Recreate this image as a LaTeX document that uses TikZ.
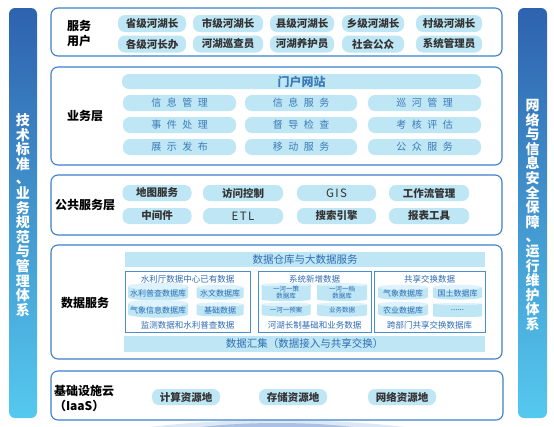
\documentclass[tikz,border=0pt]{standalone}
\usepackage{fontspec}
\setmainfont{Noto Sans CJK SC}
\newfontfamily\widefont[LetterSpace=55]{Noto Sans CJK SC}
\newfontfamily\latinfont[LetterSpace=12]{Noto Sans CJK SC}
\usetikzlibrary{shapes.geometric}

\definecolor{boxline}{HTML}{3C80CB}
\definecolor{bartop}{HTML}{2E62AE}
\definecolor{barmid}{HTML}{3F95D6}
\definecolor{barbot}{HTML}{55C9EF}
\definecolor{pillfill}{HTML}{BEE6F4}
\definecolor{pilltop}{HTML}{DDF2FA}
\definecolor{pilltext}{HTML}{333333}
\definecolor{steeltext}{HTML}{3C7AB8}
\definecolor{datatext}{HTML}{2F6CB3}
\definecolor{subline}{HTML}{4A8ED2}
\definecolor{glowlight}{HTML}{DDE8F5}
\definecolor{glowdark}{HTML}{A9C1E2}

\begin{document}
\begin{tikzpicture}[x=1pt, y=-1pt,
    layer/.style={draw=boxline, line width=1.1pt, rounded corners=7pt},
    sidebar/.style={rounded corners=6pt, top color=bartop, middle color=barmid, bottom color=barbot},
    sidetext/.style={text=white, align=center, font=\fontsize{14}{14.6}\selectfont\bfseries},
    layerlabel/.style={align=left, text=black, font=\fontsize{12}{15}\selectfont\bfseries},
    pill/.style={fill=pillfill, rounded corners=7pt, inner sep=0pt, minimum height=17pt, text=pilltext, font=\fontsize{10.5}{12}\selectfont\bfseries},
    bizpill/.style={pill, minimum height=16pt, text=steeltext, font=\widefont\fontsize{10}{12}\selectfont},
    databar/.style={fill=pillfill, inner sep=0pt, minimum height=15pt, text=datatext, font=\fontsize{10.5}{12}\selectfont},
    subbox/.style={draw=subline, line width=0.8pt},
    subtitle/.style={text=datatext, font=\fontsize{8.5}{10}\selectfont},
    dbcyl/.style={shape=cylinder, shape border rotate=90, aspect=0.12, cylinder uses custom fill, cylinder body fill=pillfill, cylinder end fill=pilltop, inner sep=0pt, align=center, text=datatext, font=\fontsize{8}{8}\selectfont}
    ]

    \useasboundingbox (0,0) rectangle (554,426);
    \fill[white] (0,0) rectangle (554,426);

    % glow under the stack
    \begin{scope}
        \clip (0,0) rectangle (554,426);
        \fill[glowlight] (277,470) ellipse (250 and 50);
        \fill[glowdark] (277,452) ellipse (150 and 29);
    \end{scope}

    % side bars
    \shade[sidebar] (9,8) rectangle (37,418);
    \node[sidetext] (leftbar) at (23,215) {技\\术\\标\\准\\、\\业\\务\\规\\范\\与\\管\\理\\体\\系};

    \shade[sidebar] (518,8) rectangle (547,418);
    \node[sidetext] (rightbar) at (532.5,215) {网\\络\\与\\信\\息\\安\\全\\保\\障\\、\\运\\行\\维\\护\\体\\系};

    % service users
    \draw[layer] (51,8) rectangle (502,56);
    \node[layerlabel] (users) at (79,33) {服务\\用户};

    \node[pill, minimum width=68pt] (u1) at (152,23.5) {省级河湖长};
    \node[pill, minimum width=70pt] (u2) at (228,23.5) {市级河湖长};
    \node[pill, minimum width=64pt] (u3) at (302,23.5) {县级河湖长};
    \node[pill, minimum width=62pt] (u4) at (373,23.5) {乡级河湖长};
    \node[pill, minimum width=66pt] (u5) at (449,23.5) {村级河湖长};
    \node[pill, minimum width=68pt] (u6) at (152,44) {各级河长办};
    \node[pill, minimum width=70pt] (u7) at (228,44) {河湖巡查员};
    \node[pill, minimum width=64pt] (u8) at (302,44) {河湖养护员};
    \node[pill, minimum width=62pt] (u9) at (373,44) {社会公众};
    \node[pill, minimum width=66pt] (u10) at (449,44) {系统管理员};

    % business layer
    \draw[layer] (51,67) rectangle (502,165);
    \node[layerlabel] (biz) at (85,116) {业务层};

    \node[pill, minimum width=359pt, minimum height=15pt, text=steeltext, font=\fontsize{12}{14}\selectfont\bfseries] (portal) at (301.5,81.5) {门户网站};

    \node[bizpill, minimum width=113pt] (b1) at (179.5,103) {信息管理};
    \node[bizpill, minimum width=112pt] (b2) at (301,103) {信息服务};
    \node[bizpill, minimum width=113pt] (b3) at (424.5,103) {巡河管理};
    \node[bizpill, minimum width=113pt] (b4) at (179.5,125) {事件处理};
    \node[bizpill, minimum width=112pt] (b5) at (301,125) {督导检查};
    \node[bizpill, minimum width=113pt] (b6) at (424.5,125) {考核评估};
    \node[bizpill, minimum width=113pt] (b7) at (179.5,147) {展示发布};
    \node[bizpill, minimum width=112pt] (b8) at (301,147) {移动服务};
    \node[bizpill, minimum width=113pt] (b9) at (424.5,147) {公众服务};

    % public services
    \draw[layer] (51,175) rectangle (502,235);
    \node[layerlabel] (pub) at (85,205) {公共服务层};

    \node[pill, minimum width=69pt, minimum height=16pt] (p1) at (157,193) {地图服务};
    \node[pill, minimum width=80pt, minimum height=16pt] (p2) at (243,193) {访问控制};
    \node[pill, minimum width=79pt, minimum height=16pt, font=\latinfont\fontsize{11.5}{12}\selectfont] (p3) at (336.5,193) {GIS};
    \node[pill, minimum width=80pt, minimum height=16pt] (p4) at (429,193) {工作流管理};
    \node[pill, minimum width=69pt, minimum height=16pt] (p5) at (157,216) {中间件};
    \node[pill, minimum width=80pt, minimum height=16pt, font=\latinfont\fontsize{11.5}{12}\selectfont] (p6) at (243,216) {ETL};
    \node[pill, minimum width=79pt, minimum height=16pt] (p7) at (336.5,216) {搜索引擎};
    \node[pill, minimum width=80pt, minimum height=16pt] (p8) at (429,216) {报表工具};

    % data services
    \draw[layer] (51,245) rectangle (502,359);
    \node[layerlabel] (data) at (85,303) {数据服务};

    \node[databar, minimum width=360pt] (warehouse) at (305,259.5) {数据仓库与大数据服务};
    \node[databar, minimum width=361pt, minimum height=16pt] (gather) at (304.5,344) {数据汇集（数据接入与共享交换）};

    \draw[subbox] (125,271) rectangle (250,332);
    \node[subtitle] (d1) at (187.5,279) {水利厅数据中心已有数据};
    \node[dbcyl, minimum width=60pt, minimum height=14pt] (d1a) at (158,293.5) {水利普查数据库};
    \node[dbcyl, minimum width=47pt, minimum height=14pt] (d1b) at (220,293.5) {水文数据库};
    \node[dbcyl, minimum width=60pt, minimum height=14pt] (d1c) at (158,310.5) {气象信息数据库};
    \node[dbcyl, minimum width=47pt, minimum height=14pt] (d1d) at (220,310.5) {基础数据};
    \node[subtitle] (d1f) at (187.5,325.5) {监测数据和水利普查数据};

    \draw[subbox] (258,271) rectangle (371,332);
    \node[subtitle] (d2) at (314.5,279) {系统新增数据};
    \node[dbcyl, minimum width=49pt, minimum height=16pt, font=\fontsize{6.5}{7}\selectfont] (d2a) at (286,293) {一河一策\\数据库};
    \node[dbcyl, minimum width=50pt, minimum height=16pt, font=\fontsize{6.5}{7}\selectfont] (d2b) at (342,293) {一河一档\\数据库};
    \node[dbcyl, minimum width=49pt, minimum height=14pt, font=\fontsize{6.5}{7}\selectfont] (d2c) at (286,310.5) {一河一预案};
    \node[dbcyl, minimum width=50pt, minimum height=14pt, font=\fontsize{6.5}{7}\selectfont] (d2d) at (342,310.5) {业务数据};
    \node[subtitle] (d2f) at (314.5,325.5) {河湖长制基础和业务数据};

    \draw[subbox] (374,271) rectangle (485,332);
    \node[subtitle] (d3) at (429.5,279) {共享交换数据};
    \node[dbcyl, minimum width=50pt, minimum height=14pt] (d3a) at (403,293.5) {气象数据库};
    \node[dbcyl, minimum width=49pt, minimum height=14pt] (d3b) at (457.5,293.5) {国土数据库};
    \node[dbcyl, minimum width=50pt, minimum height=14pt] (d3c) at (403,310.5) {农业数据库};
    \node[dbcyl, minimum width=49pt, minimum height=14pt] (d3d) at (457.5,310.5) {......};
    \node[subtitle] (d3f) at (429.5,325.5) {跨部门共享交换数据库};

    % infrastructure cloud
    \draw[layer] (51,371) rectangle (503,420);
    \node[layerlabel] (iaas) at (84,398) {基础设施云\\（IaaS）};

    \node[pill, minimum width=68pt, minimum height=16pt] (i1) at (186,397) {计算资源地};
    \node[pill, minimum width=68pt, minimum height=16pt] (i2) at (293,397) {存储资源地};
    \node[pill, minimum width=68pt, minimum height=16pt] (i3) at (402,397) {网络资源地};

\end{tikzpicture}
\end{document}
